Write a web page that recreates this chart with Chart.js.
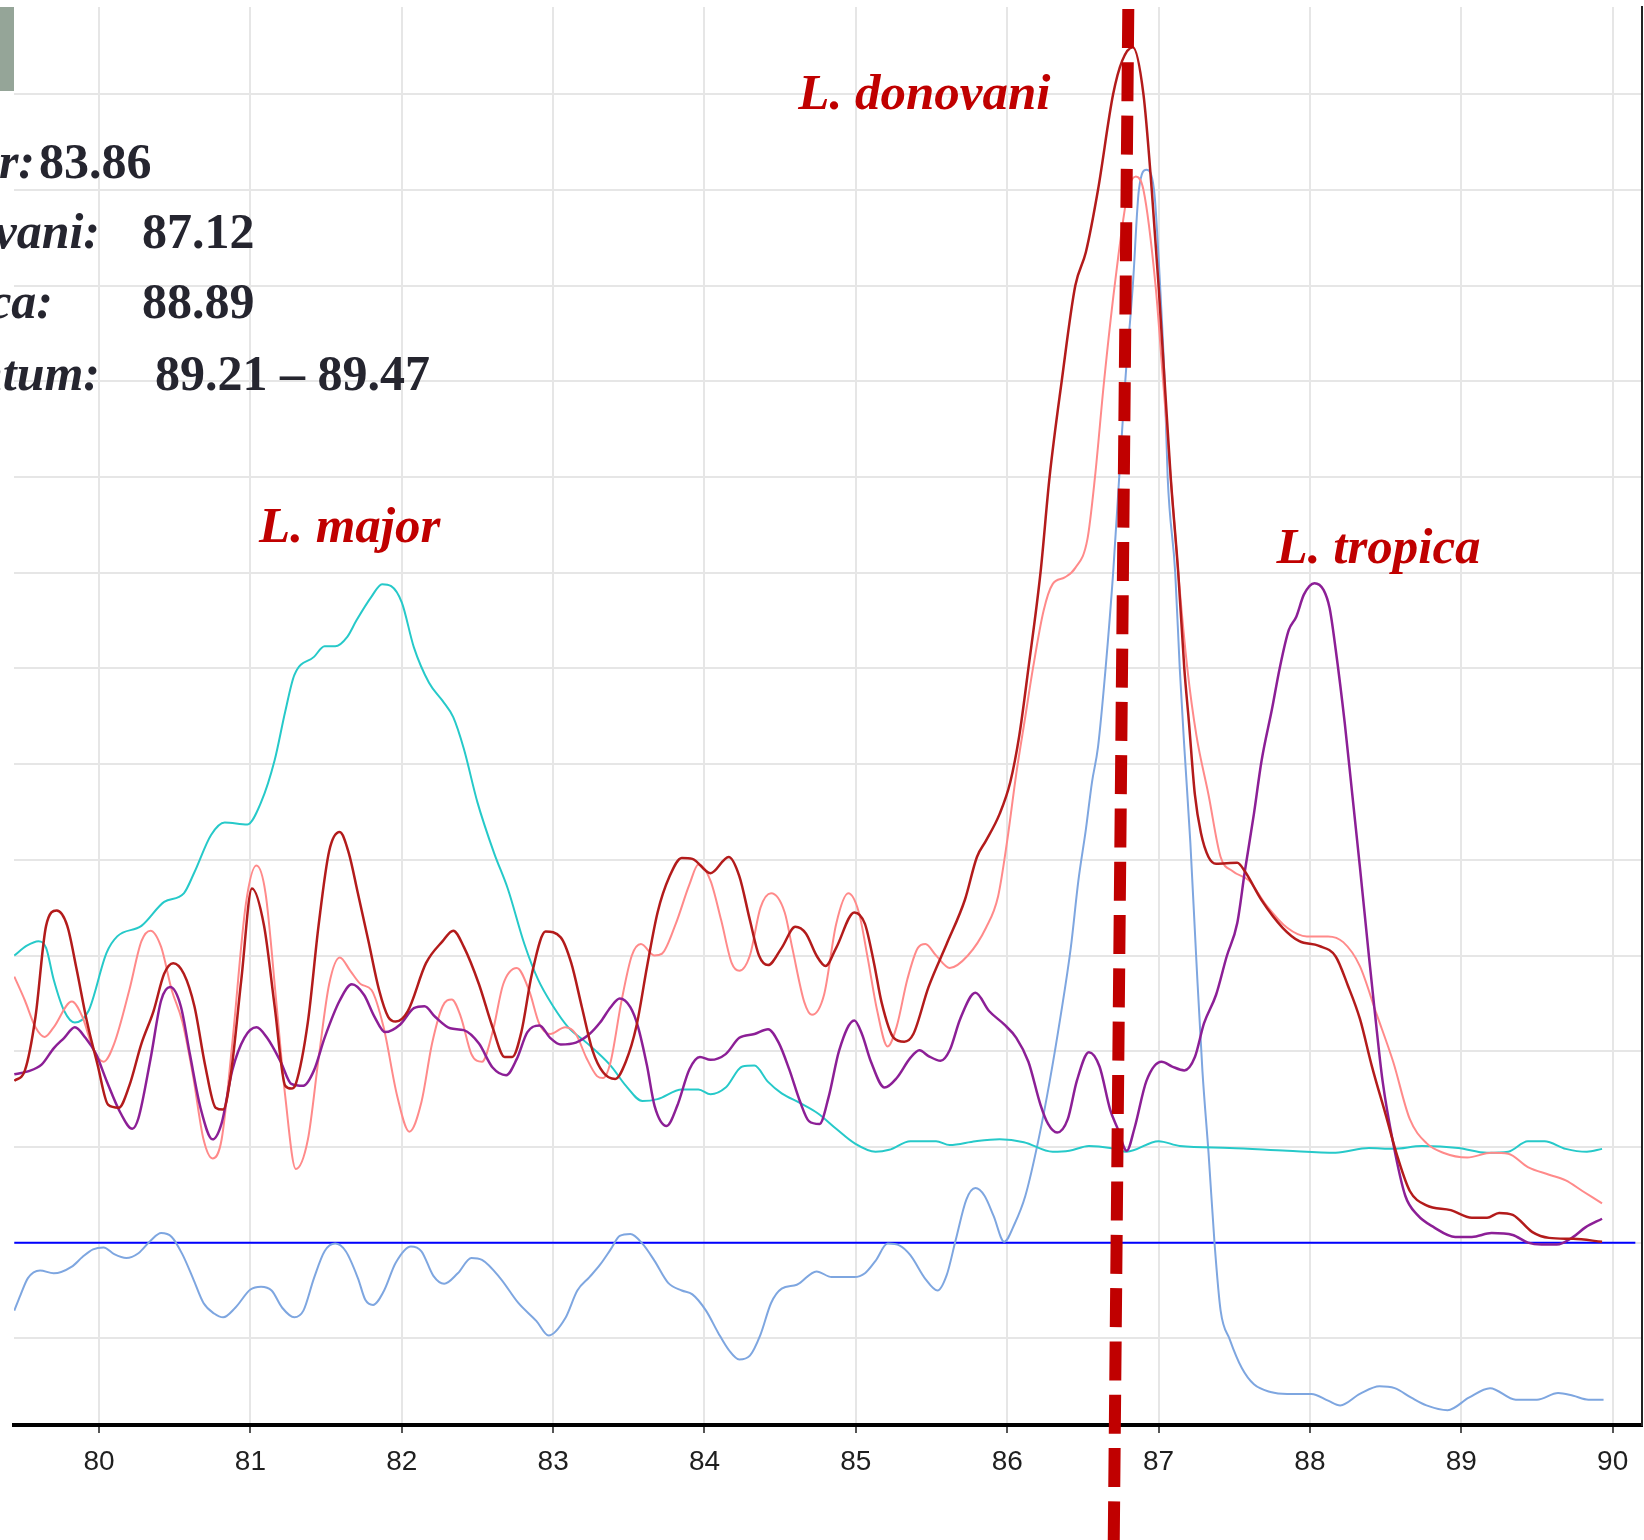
<!DOCTYPE html>
<html>
<head>
<meta charset="utf-8">
<title>HRM melt curves</title>
<script src="https://cdn.jsdelivr.net/npm/chart.js@4/dist/chart.umd.min.js"></script>
<style>
  html, body { margin: 0; padding: 0; background: #ffffff; overflow: hidden; }
  canvas { display: block; }
</style>
</head>
<body>
<canvas id="melt" width="1644" height="1540"></canvas>
<script>
// Temperature (°C) tick labels and derivative-fluorescence grid levels
const tempTicks = [80, 81, 82, 83, 84, 85, 86, 87, 88, 89, 90];
const levelTicks = [-1, 0, 1, 2, 3, 4, 5, 6, 7, 8, 9, 10, 11, 12];

// Melt curves: temperature and -dF/dT
const majorX = [79.44,79.52,79.60,79.65,79.70,79.77,79.84,79.93,80.05,80.12,80.28,80.43,80.56,80.63,80.74,80.83,80.98,81.07,81.16,81.23,81.29,81.42,81.49,81.56,81.64,81.70,81.80,81.87,81.93,82.00,82.08,82.18,82.27,82.34,82.41,82.50,82.61,82.70,82.81,82.90,83.00,83.10,83.22,83.38,83.48,83.59,83.69,83.85,83.96,84.04,84.14,84.25,84.33,84.42,84.51,84.63,84.75,84.87,84.99,85.13,85.22,85.36,85.53,85.62,85.79,85.95,86.11,86.30,86.41,86.54,86.68,86.79,87.00,87.14,87.47,87.85,88.17,88.39,88.55,88.74,88.98,89.17,89.31,89.44,89.55,89.69,89.83,89.93];
const majorY = [3.00,3.10,3.15,3.08,2.75,2.42,2.30,2.42,3.03,3.20,3.31,3.56,3.65,3.87,4.26,4.39,4.37,4.60,5.04,5.55,5.93,6.12,6.23,6.23,6.33,6.50,6.75,6.88,6.86,6.69,6.22,5.85,5.66,5.49,5.16,4.60,4.07,3.70,3.12,2.75,2.47,2.25,2.09,1.85,1.64,1.48,1.50,1.60,1.60,1.55,1.62,1.84,1.85,1.68,1.56,1.46,1.35,1.19,1.04,0.95,0.97,1.06,1.06,1.02,1.06,1.08,1.05,0.95,0.96,1.01,0.99,0.95,1.06,1.01,0.99,0.96,0.94,0.99,0.98,1.01,0.99,0.94,0.95,1.06,1.06,0.98,0.95,0.98];

const donovaniX = [79.44,79.51,79.58,79.65,79.72,79.79,79.85,79.92,79.99,80.06,80.13,80.20,80.28,80.36,80.43,80.49,80.56,80.63,80.70,80.77,80.82,80.87,80.94,81.01,81.09,81.16,81.23,81.27,81.30,81.38,81.45,81.52,81.59,81.65,81.71,81.78,81.85,81.91,81.96,82.04,82.16,82.27,82.34,82.41,82.51,82.60,82.68,82.73,82.79,82.86,82.95,83.05,83.12,83.19,83.26,83.33,83.41,83.48,83.55,83.62,83.69,83.77,83.85,83.92,84.04,84.16,84.23,84.30,84.36,84.42,84.51,84.60,84.67,84.74,84.80,84.87,84.99,85.06,85.12,85.17,85.25,85.32,85.38,85.48,85.60,85.72,85.80,85.86,85.95,86.02,86.08,86.14,86.22,86.28,86.36,86.45,86.52,86.60,86.70,86.76,86.83,86.90,86.955,87.00,87.04,87.08,87.13,87.17,87.20,87.24,87.28,87.33,87.38,87.52,87.57,87.68,87.82,87.93,88.06,88.17,88.25,88.33,88.41,88.50,88.58,88.66,88.77,88.93,89.07,89.17,89.25,89.34,89.47,89.58,89.74,89.93];
const donovaniY = [1.69,1.80,2.36,3.31,3.47,3.31,2.87,2.31,1.86,1.44,1.41,1.64,2.08,2.42,2.81,2.92,2.81,2.47,1.86,1.41,1.39,1.75,2.75,3.70,3.31,2.47,1.64,1.61,1.66,2.31,3.31,4.09,4.29,4.07,3.65,3.15,2.64,2.36,2.31,2.42,2.92,3.15,3.26,3.09,2.70,2.25,1.94,1.94,2.20,2.81,3.25,3.19,2.92,2.46,2.01,1.78,1.71,1.89,2.26,2.88,3.45,3.83,4.02,4.01,3.86,4.03,3.83,3.37,3.00,2.90,3.08,3.30,3.23,3.00,2.89,3.08,3.45,3.33,2.92,2.51,2.14,2.10,2.18,2.67,3.12,3.58,4.03,4.20,4.48,4.81,5.30,6.00,7.00,8.00,9.00,10.00,10.35,11.00,12.00,12.35,12.49,12.00,11.00,10.00,9.00,8.00,7.00,6.00,5.45,4.68,4.28,4.03,3.96,3.97,3.88,3.58,3.29,3.15,3.10,2.99,2.69,2.34,1.84,1.34,0.89,0.54,0.39,0.34,0.26,0.26,0.31,0.29,0.11,0.05,0.04,0.01];

const infantumX = [79.44,79.51,79.58,79.64,79.70,79.82,79.89,79.96,80.03,80.10,80.20,80.28,80.34,80.41,80.48,80.55,80.62,80.69,80.75,80.81,80.88,80.97,81.04,81.10,81.17,81.23,81.30,81.38,81.45,81.52,81.59,81.66,81.73,81.80,81.88,81.97,82.05,82.13,82.20,82.27,82.33,82.39,82.46,82.53,82.60,82.67,82.76,82.84,82.91,82.98,83.08,83.15,83.22,83.29,83.33,83.38,83.45,83.52,83.58,83.67,83.72,83.81,83.90,83.96,84.04,84.11,84.18,84.23,84.30,84.37,84.44,84.53,84.58,84.66,84.71,84.79,84.87,84.95,85.02,85.08,85.14,85.21,85.27,85.34,85.41,85.46,85.53,85.62,85.74,85.86,85.94,86.00,86.06,86.12,86.17,86.24,86.30,86.38,86.45,86.53,86.58,86.64,86.71,86.80,86.85,86.90,86.98,87.03,87.08,87.13,87.19,87.25,87.33,87.41,87.49,87.60,87.71,87.85,87.98,88.12,88.22,88.33,88.44,88.55,88.66,88.77,88.88,89.04,89.20,89.31,89.44,89.58,89.69,89.80,89.93];
const infantumY = [2.78,2.53,2.25,2.15,2.25,2.52,2.36,2.03,1.89,2.08,2.64,3.15,3.26,3.09,2.64,2.31,1.75,1.08,0.88,1.08,2.08,3.54,3.94,3.65,2.53,1.53,0.77,1.08,1.92,2.70,2.98,2.84,2.70,2.64,2.25,1.53,1.16,1.47,2.08,2.47,2.54,2.36,1.97,1.89,2.20,2.70,2.87,2.64,2.28,2.18,2.25,2.18,1.93,1.74,1.72,1.89,2.51,3.00,3.12,3.00,3.02,3.33,3.74,3.95,3.78,3.37,2.92,2.84,3.00,3.50,3.65,3.45,3.08,2.51,2.38,2.59,3.33,3.65,3.45,2.96,2.43,2.05,2.26,2.75,3.08,3.12,3.00,2.87,3.00,3.29,3.62,4.20,4.90,5.50,6.00,6.60,6.88,6.95,7.05,7.35,8.00,9.00,10.00,11.00,11.14,11.00,10.00,9.00,8.00,7.00,6.00,5.30,4.68,4.03,3.88,3.78,3.53,3.29,3.20,3.20,3.14,2.89,2.39,1.89,1.29,1.04,0.94,0.89,0.94,0.93,0.79,0.71,0.65,0.54,0.41];

const tropicaX = [79.44,79.53,79.62,79.70,79.77,79.84,79.91,79.98,80.05,80.14,80.22,80.26,80.34,80.41,80.47,80.54,80.60,80.67,80.75,80.81,80.88,80.96,81.04,81.11,81.20,81.27,81.35,81.42,81.49,81.59,81.67,81.75,81.82,81.89,81.99,82.08,82.15,82.22,82.32,82.41,82.51,82.60,82.69,82.76,82.83,82.91,82.98,83.05,83.15,83.24,83.31,83.38,83.44,83.51,83.56,83.62,83.67,83.75,83.82,83.90,83.97,84.04,84.14,84.23,84.33,84.42,84.49,84.56,84.63,84.69,84.76,84.82,84.89,84.99,85.04,85.10,85.19,85.27,85.36,85.42,85.48,85.56,85.62,85.69,85.79,85.88,85.98,86.06,86.14,86.22,86.27,86.33,86.40,86.46,86.54,86.61,86.68,86.73,86.79,86.84,86.92,87.02,87.09,87.17,87.24,87.30,87.38,87.45,87.52,87.57,87.63,87.68,87.75,87.80,87.86,87.91,87.96,88.03,88.09,88.13,88.17,88.23,88.28,88.33,88.39,88.43,88.48,88.55,88.63,88.71,88.82,88.96,89.07,89.20,89.34,89.44,89.53,89.63,89.74,89.82,89.93];
const tropicaY = [1.76,1.79,1.86,2.03,2.14,2.25,2.14,1.97,1.69,1.36,1.19,1.30,1.92,2.53,2.67,2.47,1.97,1.41,1.08,1.25,1.80,2.14,2.25,2.14,1.89,1.66,1.64,1.80,2.14,2.53,2.70,2.59,2.36,2.20,2.28,2.45,2.47,2.36,2.24,2.22,2.08,1.83,1.75,1.92,2.20,2.27,2.14,2.07,2.09,2.18,2.30,2.46,2.55,2.46,2.26,1.85,1.43,1.22,1.43,1.81,1.94,1.91,1.97,2.14,2.18,2.23,2.09,1.81,1.48,1.27,1.24,1.52,2.01,2.32,2.18,1.89,1.62,1.72,1.93,2.01,1.95,1.90,2.01,2.34,2.61,2.42,2.28,2.14,1.89,1.44,1.24,1.15,1.29,1.69,1.99,1.84,1.39,1.19,0.96,1.19,1.69,1.89,1.84,1.80,1.94,2.29,2.59,2.99,3.34,3.88,4.48,5.03,5.58,6.00,6.40,6.54,6.77,6.89,6.82,6.63,6.20,5.43,4.68,3.93,2.99,2.39,1.69,1.04,0.49,0.29,0.16,0.06,0.06,0.10,0.08,0.00,-0.02,-0.02,0.06,0.16,0.25];

const sampleX = [79.44,79.48,79.53,79.61,79.70,79.82,79.89,79.96,80.03,80.10,80.18,80.26,80.34,80.41,80.48,80.55,80.62,80.69,80.76,80.82,80.90,81.00,81.07,81.14,81.21,81.29,81.35,81.42,81.49,81.56,81.63,81.71,81.76,81.81,81.88,81.96,82.06,82.13,82.21,82.28,82.37,82.46,82.53,82.65,82.77,82.89,82.97,83.08,83.16,83.24,83.31,83.38,83.44,83.51,83.59,83.67,83.76,83.85,83.92,84.01,84.09,84.16,84.23,84.30,84.37,84.44,84.51,84.61,84.74,84.84,84.99,85.06,85.13,85.21,85.29,85.36,85.46,85.54,85.60,85.66,85.73,85.79,85.85,85.91,85.98,86.05,86.12,86.21,86.28,86.35,86.42,86.47,86.52,86.56,86.60,86.65,86.70,86.74,86.78,86.83,86.87,86.92,86.97,87.01,87.04,87.06,87.11,87.14,87.17,87.21,87.25,87.29,87.33,87.37,87.41,87.47,87.55,87.63,87.74,87.85,88.01,88.12,88.20,88.33,88.46,88.56,88.67,88.77,88.91,89.05,89.19,89.36,89.50,89.64,89.74,89.84,89.94];
const sampleY = [-0.71,-0.55,-0.37,-0.29,-0.32,-0.25,-0.15,-0.07,-0.05,-0.12,-0.16,-0.11,0.02,0.10,0.06,-0.12,-0.37,-0.63,-0.74,-0.78,-0.68,-0.49,-0.46,-0.50,-0.68,-0.78,-0.71,-0.37,-0.09,-0.01,-0.09,-0.37,-0.60,-0.65,-0.51,-0.21,-0.04,-0.09,-0.35,-0.43,-0.32,-0.16,-0.18,-0.37,-0.63,-0.82,-0.97,-0.79,-0.50,-0.36,-0.23,-0.07,0.07,0.09,-0.01,-0.19,-0.42,-0.50,-0.54,-0.71,-0.94,-1.12,-1.22,-1.18,-0.96,-0.63,-0.48,-0.44,-0.30,-0.36,-0.36,-0.32,-0.19,-0.01,-0.03,-0.13,-0.38,-0.50,-0.34,0.03,0.45,0.57,0.49,0.28,0.01,0.20,0.49,1.10,1.68,2.34,3.08,3.78,4.32,4.81,5.18,6.00,7.00,8.00,9.00,10.00,11.00,11.21,11.00,10.00,9.00,8.00,7.00,6.00,5.18,4.18,2.94,1.79,0.94,-0.01,-0.71,-1.01,-1.31,-1.48,-1.56,-1.58,-1.58,-1.65,-1.70,-1.58,-1.50,-1.52,-1.62,-1.70,-1.75,-1.62,-1.52,-1.64,-1.64,-1.57,-1.60,-1.64,-1.64];

// Threshold line
const thresholdX = [79.44, 90.15];
const thresholdY = [0, 0];

// Marked melting temperature (slanted dashed marker, top and bottom)
const markerX = [86.80, 86.704];

// Species labels placed on the curves (temperature, level)
const speciesText = ['L. major', 'L. donovani', 'L. tropica'];
const speciesX = [81.057, 84.62, 87.78];
const speciesY = [7.32, 11.84, 7.10];

// Tm summary block
const summaryNames = ['L. major:', 'L. donovani:', 'L. tropica:', 'L. infantum:'];
const summaryValues = ['83.86', '87.12', '88.89', '89.21 \u2013 89.47'];

const toPoints = (xs, ys) => xs.map((v, i) => ({ x: v, y: ys[i] }));

const curve = (label, xs, ys, color, width) => ({
  label,
  data: toPoints(xs, ys),
  borderColor: color,
  backgroundColor: color,
  borderWidth: width,
  pointRadius: 0,
  fill: false,
  cubicInterpolationMode: 'monotone'
});

const annotations = {
  id: 'meltAnnotations',
  afterDraw(chart) {
    const { ctx } = chart;
    const x = chart.scales.x;
    const y = chart.scales.y;
    ctx.save();

    // grey tab in the corner
    ctx.fillStyle = '#95a598';
    ctx.fillRect(0, 7, 14, 84);

    // Tm summary
    const nameRight = [35, 100, 53, 100];
    const valueLeft = [39, 142, 142, 155];
    const baseLine = [178, 248, 318, 390];
    ctx.fillStyle = '#25252f';
    ctx.textBaseline = 'alphabetic';
    summaryNames.forEach((name, i) => {
      ctx.font = 'bold italic 50px "Liberation Serif", "Times New Roman", serif';
      ctx.textAlign = 'right';
      ctx.fillText(name, nameRight[i], baseLine[i]);
      ctx.font = 'bold 50px "Liberation Serif", "Times New Roman", serif';
      ctx.textAlign = 'left';
      ctx.fillText(summaryValues[i], valueLeft[i], baseLine[i]);
    });

    // species labels
    ctx.fillStyle = '#c00000';
    ctx.font = 'bold italic 51px "Liberation Serif", "Times New Roman", serif';
    ctx.textAlign = 'left';
    speciesText.forEach((t, i) => {
      ctx.fillText(t, x.getPixelForValue(speciesX[i]), y.getPixelForValue(speciesY[i]));
    });

    // dashed Tm marker
    ctx.strokeStyle = '#c00000';
    ctx.lineWidth = 12;
    ctx.lineCap = 'butt';
    ctx.setLineDash([39, 14.3]);
    ctx.beginPath();
    ctx.moveTo(x.getPixelForValue(markerX[0]), 9);
    ctx.lineTo(x.getPixelForValue(markerX[1]), chart.height);
    ctx.stroke();

    ctx.restore();
  }
};

new Chart(document.getElementById('melt'), {
  type: 'line',
  data: {
    datasets: [
      curve('L. donovani', donovaniX, donovaniY, '#b31b1b', 2.5),
      curve('L. tropica', tropicaX, tropicaY, '#8c1f96', 2.5),
      curve('L. infantum', infantumX, infantumY, '#ff8a8a', 2),
      curve('L. major', majorX, majorY, '#26c9c9', 2),
      curve('Sample', sampleX, sampleY, '#7ea6e0', 2),
      curve('Threshold', thresholdX, thresholdY, '#0000ff', 2)
    ]
  },
  options: {
    responsive: false,
    devicePixelRatio: 1,
    animation: false,
    layout: { padding: { left: 14, right: 2, top: 7, bottom: 49.4 } },
    plugins: {
      legend: { display: false },
      tooltip: { enabled: false }
    },
    scales: {
      x: {
        type: 'linear',
        position: 'bottom',
        min: 79.438,
        max: 90.194,
        afterBuildTicks: (s) => { s.ticks = tempTicks.map(v => ({ value: v })); },
        ticks: {
          autoSkip: false,
          maxRotation: 0,
          padding: 12,
          color: '#1f1f1f',
          font: { family: '"Liberation Sans", Arial, sans-serif', size: 28 }
        },
        grid: {
          color: '#e6e6e6',
          lineWidth: 2,
          drawTicks: true,
          tickLength: 8,
          tickColor: '#555555',
          tickWidth: 2
        },
        border: { display: true, color: '#000000', width: 4 }
      },
      y: {
        type: 'linear',
        position: 'left',
        min: -1.905,
        max: 12.91,
        afterBuildTicks: (s) => { s.ticks = levelTicks.map(v => ({ value: v })); },
        ticks: { display: false },
        grid: { color: '#e6e6e6', lineWidth: 2, drawTicks: false },
        border: { display: false }
      },
      frame: {
        type: 'linear',
        position: 'right',
        min: -1.905,
        max: 12.91,
        ticks: { display: false },
        grid: { display: false, drawTicks: false },
        border: { display: true, color: '#222222', width: 2 }
      }
    }
  },
  plugins: [annotations]
});
</script>
</body>
</html>
